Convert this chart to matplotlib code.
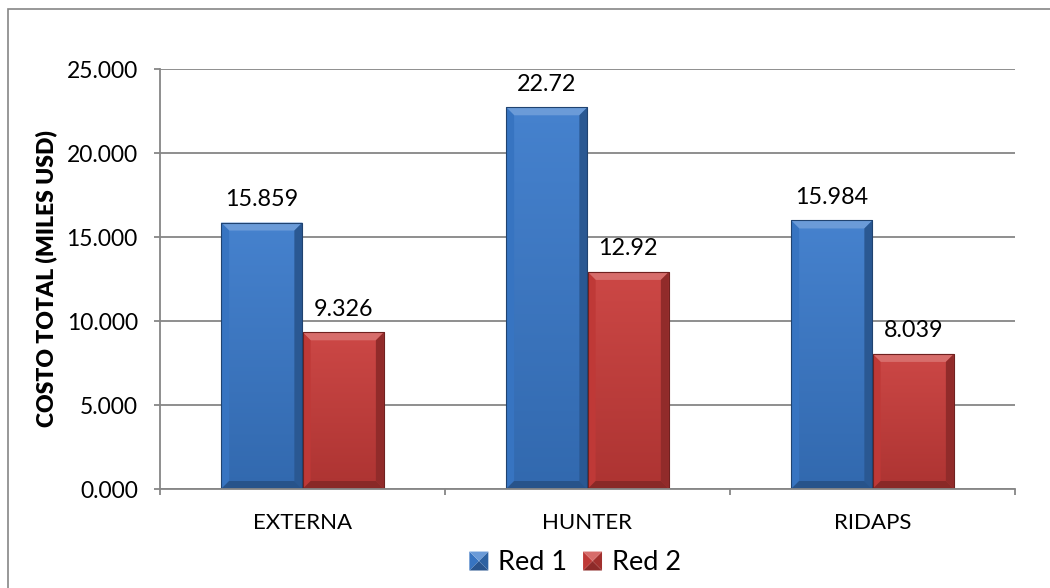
import numpy as np
import matplotlib
matplotlib.use("Agg")
import matplotlib.pyplot as plt
from matplotlib.patches import Rectangle, Polygon, Patch
from matplotlib.colors import to_rgb
from matplotlib.legend_handler import HandlerPatch

plt.rcParams['font.family'] = ['Lato', 'DejaVu Sans']

categories = ["EXTERNA", "HUNTER", "RIDAPS"]
red1 = [15.859, 22.72, 15.984]
red2 = [9.326, 12.92, 8.039]
red1_labels = ["15.859", "22.72", "15.984"]
red2_labels = ["9.326", "12.92", "8.039"]
series_names = ["Red 1", "Red 2"]
y_ticks = [0, 5, 10, 15, 20, 25]

BLUE = "#3a7acb"
RED = "#c93c3a"
GRID = "#868686"


def shade(color, f):
    c = np.array(to_rgb(color))
    if f >= 1:
        return tuple(c + (1 - c) * (f - 1))
    return tuple(c * f)


fig = plt.figure(figsize=(10.5, 5.88), dpi=100)
fig.patch.set_facecolor("white")

# chart-area frame
fig.add_artist(Rectangle((8 / 1050, -0.2), 1.5, 1.2 - 9 / 588,
                         transform=fig.transFigure, fill=False,
                         edgecolor=GRID, lw=1.2))

ax = fig.add_axes([160 / 1050, 1 - 489 / 588, 855 / 1050, 420 / 588])
ax.set_xlim(-0.5, 2.5)
ax.set_ylim(0, 25)

x = np.arange(len(categories))
width = 0.285
off = 0.143

bars1 = ax.bar(x - off, red1, width, color=BLUE, zorder=2)
bars2 = ax.bar(x + off, red2, width, color=RED, zorder=2)

fig.canvas.draw()
bbox = ax.get_window_extent()
px_x = (ax.get_xlim()[1] - ax.get_xlim()[0]) / bbox.width
px_y = (ax.get_ylim()[1] - ax.get_ylim()[0]) / bbox.height
bev = 8


def bevel_bar(rect, color):
    x0, y0 = rect.get_x(), rect.get_y()
    w, h = rect.get_width(), rect.get_height()
    x1, y1 = x0 + w, y0 + h
    bx, by = bev * px_x, bev * px_y
    # vertical gradient body
    grad = np.linspace(0, 1, 256).reshape(-1, 1)
    c_lo = np.array(shade(color, 0.86))
    c_hi = np.array(shade(color, 1.06))
    img = c_lo[None, None, :] * (1 - grad[..., None]) + c_hi[None, None, :] * grad[..., None]
    im = ax.imshow(img, extent=(x0, x1, y0, y1), origin="lower",
                   aspect="auto", zorder=2.1, interpolation="bilinear")
    im.set_clip_path(rect)
    rect.set_alpha(0)
    faces = [
        ([(x0, y1), (x1, y1), (x1 - bx, y1 - by), (x0 + bx, y1 - by)], 1.25),
        ([(x0, y0), (x0 + bx, y0 + by), (x0 + bx, y1 - by), (x0, y1)], 0.95),
        ([(x1, y0), (x1, y1), (x1 - bx, y1 - by), (x1 - bx, y0 + by)], 0.72),
        ([(x0, y0), (x1, y0), (x1 - bx, y0 + by), (x0 + bx, y0 + by)], 0.68),
    ]
    for pts, f in faces:
        ax.add_patch(Polygon(pts, closed=True, facecolor=shade(color, f),
                             edgecolor="none", zorder=2.2))
    ax.add_patch(Rectangle((x0, y0), w, h, fill=False,
                           edgecolor=shade(color, 0.55), lw=0.8, zorder=2.3))


for b in bars1:
    bevel_bar(b, BLUE)
for b in bars2:
    bevel_bar(b, RED)

for xi, v, s in zip(x - off, red1, red1_labels):
    ax.annotate(s, (xi, v), xytext=(0, 9), textcoords="offset points",
                ha="center", va="bottom", fontsize=16.8, color="black")
for xi, v, s in zip(x + off, red2, red2_labels):
    ax.annotate(s, (xi, v), xytext=(0, 9), textcoords="offset points",
                ha="center", va="bottom", fontsize=16.8, color="black")

# axes styling
ax.set_yticks(y_ticks)
ax.set_yticklabels([f"{t:.3f}" for t in y_ticks], fontsize=16.5)
ax.yaxis.grid(True, color=GRID, lw=1.3, zorder=0)
ax.set_axisbelow(True)
ax.tick_params(axis="y", length=4, width=1.3, color=GRID, pad=12)

ax.set_xticks([-0.5, 0.5, 1.5, 2.5])
ax.set_xticklabels([])
ax.set_xticks(x, minor=True)
ax.set_xticklabels(categories, minor=True, fontsize=16)
ax.tick_params(axis="x", which="major", length=4.5, width=1.3, color=GRID)
ax.tick_params(axis="x", which="minor", length=0, pad=17)

for side in ("top", "right"):
    ax.spines[side].set_visible(False)
for side in ("left", "bottom"):
    ax.spines[side].set_color(GRID)
    ax.spines[side].set_linewidth(1.3)

ax.set_ylabel("COSTO TOTAL (MILES USD)", fontsize=16.5, fontweight="heavy",
              labelpad=7)


class BevelHandler(HandlerPatch):
    def create_artists(self, legend, orig_handle, xdescent, ydescent,
                       width, height, fontsize, trans):
        color = orig_handle.get_facecolor()
        s = min(width, height)
        x0 = -xdescent + (width - s) / 2
        y0 = -ydescent + (height - s) / 2
        x1, y1 = x0 + s, y0 + s
        cx, cy = (x0 + x1) / 2, (y0 + y1) / 2
        arts = [
            Polygon([(x0, y0), (x1, y0), (cx, cy)], facecolor=shade(color, 0.7)),
            Polygon([(x0, y0), (x0, y1), (cx, cy)], facecolor=shade(color, 0.95)),
            Polygon([(x1, y0), (x1, y1), (cx, cy)], facecolor=shade(color, 0.8)),
            Polygon([(x0, y1), (x1, y1), (cx, cy)], facecolor=shade(color, 1.25)),
        ]
        for a in arts:
            a.set_edgecolor("none")
            a.set_transform(trans)
        return arts


handles = [Patch(facecolor=BLUE), Patch(facecolor=RED)]
fig.legend(handles, series_names, loc="center", bbox_to_anchor=(575 / 1050, 1 - 563 / 588),
           ncol=2, frameon=False, fontsize=19.5, handlelength=0.7, handleheight=0.7,
           handletextpad=0.35, columnspacing=0.6,
           handler_map={Patch: BevelHandler()})

fig.savefig("out.png", dpi=100, facecolor="white")
